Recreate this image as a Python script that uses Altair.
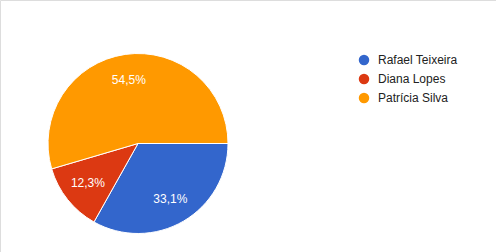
import altair as alt
import pandas as pd
import math

names = ["Rafael Teixeira", "Diana Lopes", "Patrícia Silva"]
values = [33.1, 12.3, 54.5]
colors = ["#3366cc", "#dc3912", "#ff9900"]

df = pd.DataFrame({
    "name": names,
    "value": values,
    "order": list(range(len(names))),
    "label": [f"{v:.1f}%".replace(".", ",") for v in values],
})

theta = alt.Theta("value:Q", stack=True,
                  scale=alt.Scale(range=[math.pi / 2, math.pi / 2 + 2 * math.pi]))
color = alt.Color("name:N",
                  scale=alt.Scale(domain=names, range=colors),
                  legend=alt.Legend(title=None, orient="none", legendX=358, legendY=54,
                                    symbolType="circle", symbolSize=110,
                                    labelFont="Liberation Sans", labelFontSize=12,
                                    labelColor="#222222", labelOffset=8,
                                    rowPadding=7, padding=0, symbolStrokeWidth=0))

base = alt.Chart(df).encode(
    theta=theta,
    order=alt.Order("order:Q"),
)

arcs = base.mark_arc(radius=90, stroke="white", strokeWidth=1).encode(
    color=color,
    x=alt.value(138), y=alt.value(143.5),
)

labels = base.mark_text(radius=64, font="Liberation Sans", fontSize=12, color="white").encode(
    text="label:N",
    x=alt.value(138), y=alt.value(143.5),
)

chart = (arcs + labels).properties(
    width=496, height=252, padding=0,
    autosize=alt.AutoSizeParams(type="none"),
).configure_view(stroke=None).configure(background="white")

chart.save("out.html", embed_options={"renderer": "svg", "actions": False})
